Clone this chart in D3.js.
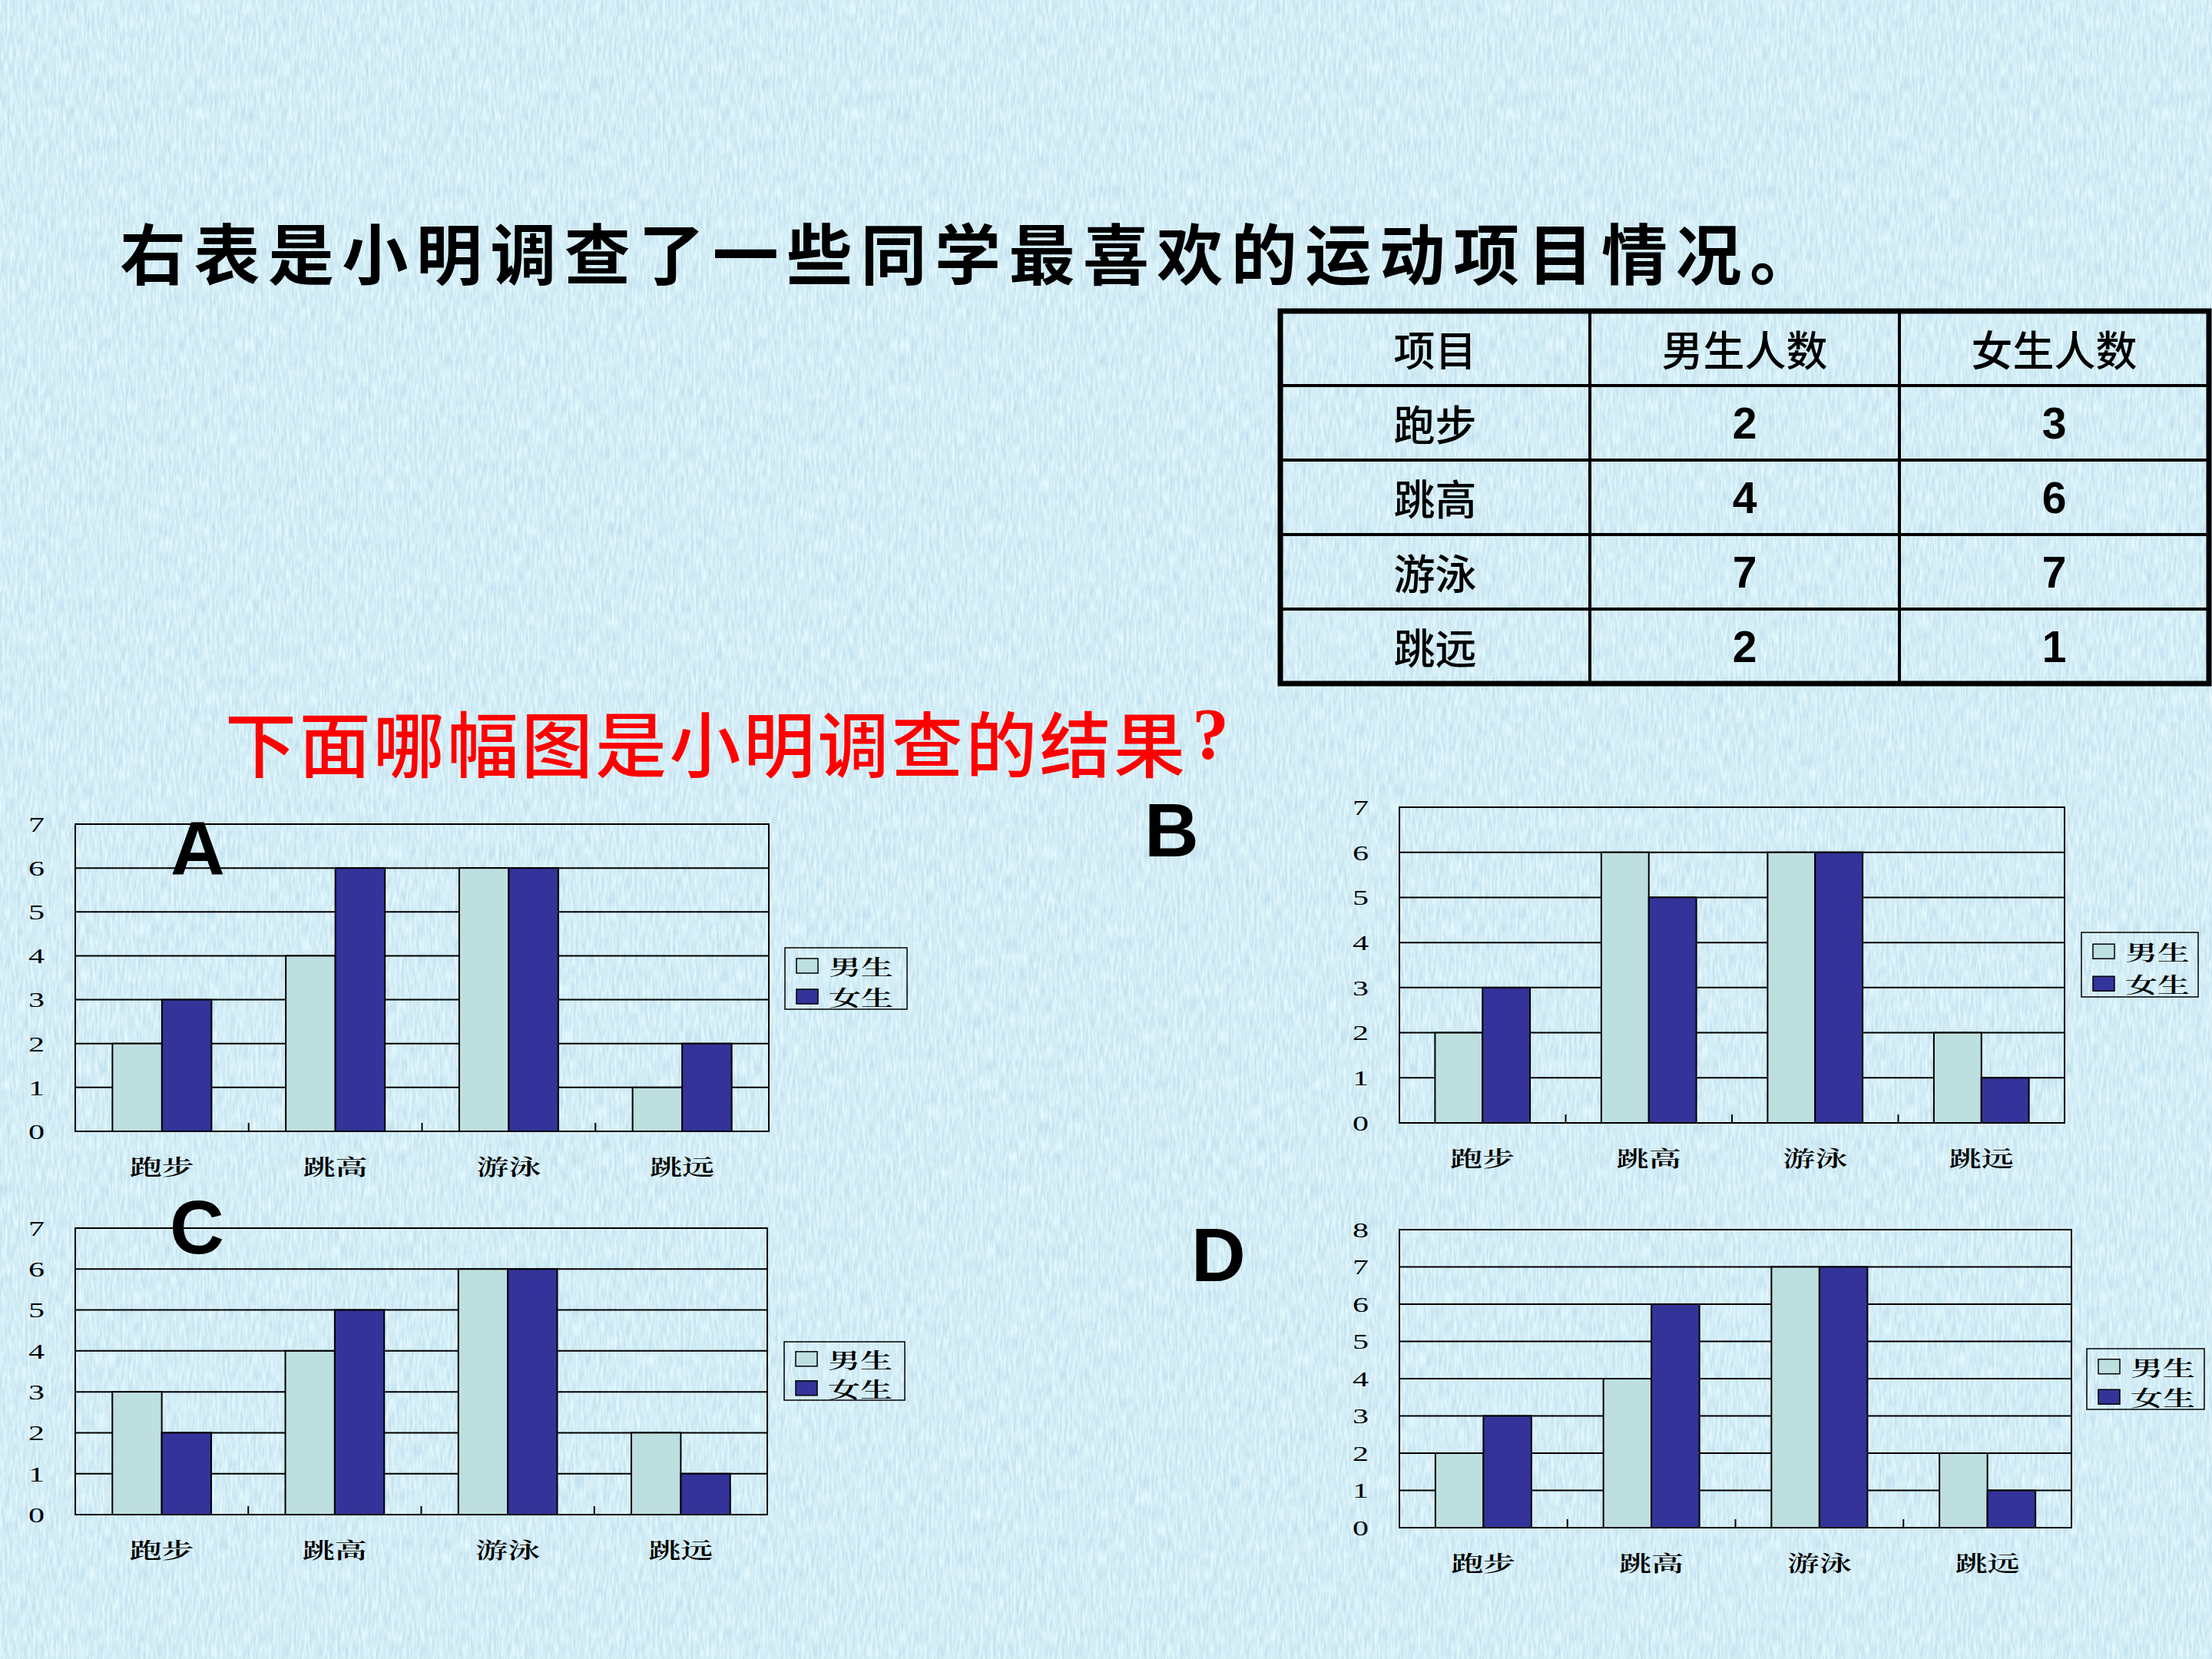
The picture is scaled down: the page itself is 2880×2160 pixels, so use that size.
<!DOCTYPE html>
<meta charset="utf-8">
<script src="https://d3js.org/d3.v7.min.js"></script>
<style>
  body { margin: 0; background: #d5edf6; }
  svg { display: block; }
</style>
<div id="slide"></div>
<script>
// ---- data ----
var categories = ["跑步", "跳高", "游泳", "跳远"];
var seriesNames = ["男生", "女生"];
var tableHeader = ["项目", "男生人数", "女生人数"];
var tableBoys = [2, 4, 7, 2];
var tableGirls = [3, 6, 7, 1];

var boysA = [2, 4, 6, 1], girlsA = [3, 6, 6, 2];
var boysB = [2, 6, 6, 2], girlsB = [3, 5, 6, 1];
var boysC = [3, 4, 6, 2], girlsC = [2, 5, 6, 1];
var boysD = [2, 4, 7, 2], girlsD = [3, 6, 7, 1];
var chartLetters = ["A", "B", "C", "D"];
var yMaxes = [7, 7, 7, 8];

var titleText = "右表是小明调查了一些同学最喜欢的运动项目情况。";
var questionText = "下面哪幅图是小明调查的结果？";

// ---- setup ----
var W = 2880, H = 2160;
var cjk = "'Noto Sans CJK SC', 'Noto Sans CJK TC', sans-serif";
var serifCjk = "'Noto Serif CJK SC', 'Noto Sans CJK SC', serif";
var color = d3.scaleOrdinal().domain(seriesNames).range(["#bedfe0", "#333399"]);

var svg = d3.select("#slide")
    .append("svg")
    .attr("width", W)
    .attr("height", H);

// paper-like background
var filter = svg.append("defs").append("filter")
    .attr("id", "paper")
    .attr("color-interpolation-filters", "sRGB")
    .attr("x", 0).attr("y", 0).attr("width", "100%").attr("height", "100%");
filter.append("feTurbulence")
    .attr("type", "fractalNoise")
    .attr("baseFrequency", "0.3 0.05")
    .attr("numOctaves", 2)
    .attr("seed", 4)
    .attr("result", "noise");
filter.append("feColorMatrix")
    .attr("in", "noise")
    .attr("type", "matrix")
    .attr("values", "0.22 0 0 0 0.72  0.16 0 0 0 0.85  0.1 0 0 0 0.915  0 0 0 0 1");

svg.append("rect")
    .attr("width", W).attr("height", H)
    .attr("fill", "#d5edf6")
    .attr("filter", "url(#paper)");

// title
svg.append("text")
    .attr("x", 156)
    .attr("y", 326)
    .attr("dominant-baseline", "central")
    .attr("textLength", 2208)
    .attr("lengthAdjust", "spacing")
    .style("font-family", cjk)
    .style("font-size", "86px")
    .style("font-weight", 700)
    .attr("fill", "#000")
    .text(titleText);

// question (the final question mark sits a little apart)
svg.append("text")
    .attr("x", 293)
    .attr("y", 964)
    .attr("dominant-baseline", "central")
    .attr("textLength", 1250)
    .attr("lengthAdjust", "spacing")
    .style("font-family", cjk)
    .style("font-size", "93px")
    .style("font-weight", 500)
    .attr("fill", "#ff0000")
    .text(questionText.slice(0, -1));
svg.append("text")
    .attr("x", 1576)
    .attr("y", 955)
    .attr("text-anchor", "middle")
    .attr("dominant-baseline", "central")
    .style("font-family", "'Liberation Serif', serif")
    .style("font-size", "96px")
    .style("font-weight", 700)
    .attr("fill", "#ff0000")
    .text("?");

// ---- table ----
var tableRows = [tableHeader].concat(categories.map(function(c, i) {
    return [c, tableBoys[i], tableGirls[i]];
}));
var rowY = d3.scaleBand().domain(d3.range(tableRows.length)).range([405, 890]);
var colX = d3.scaleBand().domain(d3.range(3)).range([1667, 2876]);

var table = svg.append("g");
table.selectAll("line.h")
    .data(d3.range(1, tableRows.length))
    .join("line")
    .attr("x1", 1667).attr("x2", 2876)
    .attr("y1", function(d) { return rowY(d); })
    .attr("y2", function(d) { return rowY(d); })
    .attr("stroke", "#000").attr("stroke-width", 4);
table.selectAll("line.v")
    .data([1, 2])
    .join("line")
    .attr("x1", function(d) { return colX(d); })
    .attr("x2", function(d) { return colX(d); })
    .attr("y1", 405).attr("y2", 890)
    .attr("stroke", "#000").attr("stroke-width", 4);
table.append("rect")
    .attr("x", 1667).attr("y", 405)
    .attr("width", 2876 - 1667).attr("height", 890 - 405)
    .attr("fill", "none")
    .attr("stroke", "#000").attr("stroke-width", 7);

table.selectAll("g.row")
    .data(tableRows)
    .join("g")
    .attr("transform", function(d, i) { return "translate(0," + (rowY(i) + rowY.bandwidth() / 2) + ")"; })
    .selectAll("text")
    .data(function(d) { return d; })
    .join("text")
    .attr("x", function(d, j) { return colX(j) + colX.bandwidth() / 2; })
    .attr("y", 0)
    .attr("text-anchor", "middle")
    .attr("dominant-baseline", "central")
    .style("font-family", function(d) { return typeof d === "number" ? "'Liberation Sans', Arial, sans-serif" : cjk; })
    .style("font-size", function(d) { return typeof d === "number" ? "57px" : "54px"; })
    .style("font-weight", function(d) { return typeof d === "number" ? 700 : 500; })
    .text(function(d) { return d; });

// ---- bar charts ----
var charts = [
    { boys: boysA, girls: girlsA, left: 98, right: 1001, top: 1073, bottom: 1473,
      legend: [1022, 1234, 159, 80], letterX: 222, letterY: 1138 },
    { boys: boysB, girls: girlsB, left: 1822, right: 2688, top: 1051, bottom: 1462,
      legend: [2710, 1214, 152, 84], letterX: 1490, letterY: 1115 },
    { boys: boysC, girls: girlsC, left: 98, right: 999, top: 1599, bottom: 1972,
      legend: [1021, 1747, 157, 76], letterX: 221, letterY: 1632 },
    { boys: boysD, girls: girlsD, left: 1822, right: 2697, top: 1601, bottom: 1989,
      legend: [2717, 1756, 153, 79], letterX: 1551, letterY: 1668 }
];

var stretch = 1.5; // chart text is horizontally stretched in the original

function drawChart(c, idx) {
    var yMax = yMaxes[idx];
    var g = svg.append("g");

    var x = d3.scaleBand().domain(categories).range([c.left, c.right]);
    var bw = x.bandwidth();
    var xSub = d3.scaleBand().domain(seriesNames).range([bw * 0.75 / 3.5, bw * 2.75 / 3.5]);
    var y = d3.scaleLinear().domain([0, yMax]).range([c.bottom, c.top]);

    // gridlines
    g.append("g")
        .selectAll("line")
        .data(y.ticks(yMax))
        .join("line")
        .attr("x1", c.left).attr("x2", c.right)
        .attr("y1", function(d) { return y(d); })
        .attr("y2", function(d) { return y(d); })
        .attr("stroke", "#000").attr("stroke-width", 2);

    // plot border
    g.append("rect")
        .attr("x", c.left).attr("y", c.top)
        .attr("width", c.right - c.left).attr("height", c.bottom - c.top)
        .attr("fill", "none").attr("stroke", "#000").attr("stroke-width", 2);

    // category divider ticks
    g.append("g")
        .selectAll("line")
        .data(categories.slice(1))
        .join("line")
        .attr("x1", function(d) { return x(d); })
        .attr("x2", function(d) { return x(d); })
        .attr("y1", c.bottom).attr("y2", c.bottom - 11)
        .attr("stroke", "#000").attr("stroke-width", 2);

    // bars
    var rows = categories.map(function(cat, i) {
        return { cat: cat, vals: [{ key: seriesNames[0], value: c.boys[i] }, { key: seriesNames[1], value: c.girls[i] }] };
    });
    g.append("g")
        .selectAll("g")
        .data(rows)
        .join("g")
        .attr("transform", function(d) { return "translate(" + x(d.cat) + ",0)"; })
        .selectAll("rect")
        .data(function(d) { return d.vals; })
        .join("rect")
        .attr("x", function(d) { return xSub(d.key); })
        .attr("width", xSub.bandwidth())
        .attr("y", function(d) { return y(d.value); })
        .attr("height", function(d) { return c.bottom - y(d.value); })
        .attr("fill", function(d) { return color(d.key); })
        .attr("stroke", "#000").attr("stroke-width", 2);

    // y axis labels
    var yAxis = g.append("g")
        .attr("transform", "translate(" + c.left + ",0)")
        .call(d3.axisLeft(y).ticks(yMax).tickSize(0).tickPadding(40 / stretch));
    yAxis.select(".domain").remove();
    yAxis.selectAll("text")
        .attr("dy", null)
        .attr("dominant-baseline", "central")
        .attr("transform", "scale(" + stretch + ",1)")
        .style("font-family", "'Liberation Serif', 'Times New Roman', serif")
        .style("font-size", "28px")
        .attr("fill", "#000");

    // x axis labels
    var xAxis = g.append("g")
        .attr("transform", "translate(0," + c.bottom + ")")
        .call(d3.axisBottom(x).tickSize(0));
    xAxis.select(".domain").remove();
    xAxis.selectAll("text")
        .attr("y", 0).attr("dy", null)
        .attr("dominant-baseline", "central")
        .attr("transform", "translate(0,45) scale(" + stretch + ",1)")
        .style("font-family", serifCjk)
        .style("font-size", "28px")
        .style("font-weight", 600)
        .attr("fill", "#000");

    // legend
    var L = c.legend;
    var leg = g.append("g").attr("transform", "translate(" + L[0] + "," + L[1] + ")");
    leg.append("rect")
        .attr("width", L[2]).attr("height", L[3])
        .attr("fill", "none").attr("stroke", "#000").attr("stroke-width", 1.5);
    var item = leg.selectAll("g")
        .data(seriesNames)
        .join("g")
        .attr("transform", function(d, i) { return "translate(0," + (L[3] * (i === 0 ? 0.3 : 0.8)) + ")"; });
    item.append("rect")
        .attr("x", 15).attr("y", -10)
        .attr("width", 28).attr("height", 19)
        .attr("fill", function(d) { return color(d); })
        .attr("stroke", "#000").attr("stroke-width", 1.5);
    item.append("text")
        .attr("transform", "translate(57,0) scale(" + stretch + ",1)")
        .attr("dominant-baseline", "central")
        .style("font-family", serifCjk)
        .style("font-size", "28px")
        .style("font-weight", 600)
        .text(function(d) { return d; });

    // option letter
    svg.append("text")
        .attr("x", c.letterX)
        .attr("y", c.letterY)
        .style("font-family", "'Liberation Sans', Arial, sans-serif")
        .style("font-size", "98px")
        .style("font-weight", 700)
        .attr("fill", "#000")
        .text(chartLetters[idx]);
}

charts.forEach(drawChart);
</script>
